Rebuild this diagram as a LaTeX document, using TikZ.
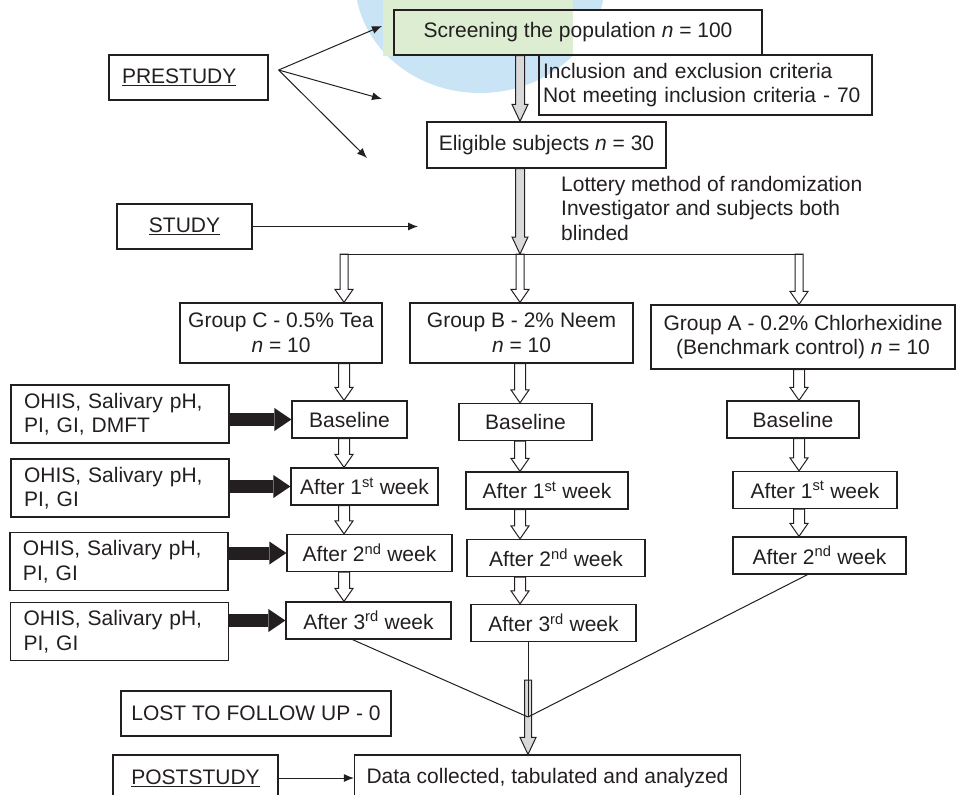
\documentclass[tikz,border=0pt]{standalone}
\usepackage{fontspec}
\setmainfont{Liberation Sans}
\usetikzlibrary{arrows.meta, calc}
\definecolor{ink}{HTML}{231F20}
\definecolor{shade}{HTML}{D9D9D9}
\definecolor{wmblue}{HTML}{C9E4F4}
\definecolor{wmgreen}{HTML}{DDEDD2}
\tikzset{every node/.style={font=\fontsize{21}{24.5}\selectfont,text=ink},
box/.style={rectangle,draw=ink,line width=1.2pt,align=center,inner sep=0pt},
ohis/.style={box,align=left,text width=192pt,inner xsep=13pt,minimum height=58pt},
wk/.style={box,minimum height=37pt},
line/.style={draw=ink,line width=1pt,-{Latex[length=10pt,width=8pt]}},
link/.style={draw=ink,line width=1pt},
heavy/.style={draw=ink,line width=13pt,-{Triangle[length=17pt,width=23pt,line width=0pt]}},
fatarrow/.style args={#1/#2/#3}{to path={let \p1=(\tikztostart),\p2=(\tikztotarget) in
 ({\x1-#1},\y1) -- ({\x1-#1},{\y2+#3}) -- ({\x1-#2},{\y2+#3}) -- (\x1,\y2) -- ({\x1+#2},{\y2+#3}) -- ({\x1+#1},{\y2+#3}) -- ({\x1+#1},\y1) -- cycle}},
hollow/.style={draw=ink,fill=white,line width=1pt,fatarrow={#1/9pt/13pt}},hollow/.default=5.5pt,
shaft/.style={draw=ink,fill=shade,line width=1pt,fatarrow={#1/8pt/17pt}},shaft/.default=4.5pt}

\begin{document}
\begin{tikzpicture}[x=1pt,y=-1pt]
\useasboundingbox (0,0) rectangle (956,795);
\fill[wmblue] (480,-20) ellipse [x radius=125pt, y radius=113pt];
\fill[white] (394,10) rectangle (762,55);
\fill[wmgreen] (383,0) rectangle (573,56);
\node[box,align=left,text width=133pt,inner xsep=13pt,minimum height=45pt] (pre) at (188.5,77.5) {\underline{PRESTUDY}};
\node[box,minimum width=368pt,minimum height=45pt] (scr) at (578,32.5) {Screening the population \textit{n} = 100};
\node[box,align=left,text width=325pt,inner xsep=4pt,minimum height=60pt] (inc) at (705.5,85) {Inclusion and exclusion criteria\\Not meeting inclusion criteria - 70};
\node[box,minimum width=239pt,minimum height=46pt] (eli) at (546.5,145) {Eligible subjects \textit{n} = 30};
\node[anchor=west,align=left,inner sep=0pt] (lot) at (561,208) {Lottery method of randomization\\Investigator and subjects both\\blinded};
\node[box,minimum width=135pt,minimum height=45pt] (stu) at (184.5,226.5) {\underline{STUDY}};
\node[box,minimum width=202pt,minimum height=60pt] (gc) at (281,333) {Group C - 0.5\% Tea\\\textit{n} = 10};
\node[box,minimum width=223pt,minimum height=60pt] (gb) at (521.5,333) {Group B - 2\% Neem\\\textit{n} = 10};
\node[box,minimum width=304pt,minimum height=64pt] (ga) at (803,337) {Group A - 0.2\% Chlorhexidine\\(Benchmark control) \textit{n} = 10};
\node[ohis] (oh1) at (120,414) {OHIS, Salivary pH,\\PI, GI, DMFT};
\node[ohis] (oh2) at (120,488) {OHIS, Salivary pH,\\PI, GI};
\node[ohis] (oh3) at (119,561.5) {OHIS, Salivary pH,\\PI, GI};
\node[ohis] (oh4) at (119.5,631.5) {OHIS, Salivary pH,\\PI, GI};
\node[wk,minimum width=115pt] (baseC) at (349.5,419.5) {Baseline};
\node[wk,minimum width=147pt] (w1C) at (364.5,486.5) {After 1\textsuperscript{st} week};
\node[wk,minimum width=165pt] (w2C) at (369.5,553) {After 2\textsuperscript{nd} week};
\node[wk,minimum width=165pt] (w3C) at (368.5,620.5) {After 3\textsuperscript{rd} week};
\node[wk,minimum width=133pt] (baseB) at (525.5,422) {Baseline};
\node[wk,minimum width=162pt] (w1B) at (547,490.5) {After 1\textsuperscript{st} week};
\node[wk,minimum width=178pt] (w2B) at (556,558) {After 2\textsuperscript{nd} week};
\node[wk,minimum width=165pt] (w3B) at (553.5,623) {After 3\textsuperscript{rd} week};
\node[wk,minimum width=132pt] (baseA) at (793,419.5) {Baseline};
\node[wk,minimum width=164pt] (w1A) at (815,490) {After 1\textsuperscript{st} week};
\node[wk,minimum width=173pt] (w2A) at (819.5,555.5) {After 2\textsuperscript{nd} week};
\node[box,minimum width=270pt,minimum height=45pt] (lost) at (256,713.5) {LOST TO FOLLOW UP - 0};
\node[box,minimum width=165pt,minimum height=46pt] (post) at (195.5,778) {\underline{POSTSTUDY}};
\node[box,minimum width=386pt,minimum height=46pt] (data) at (547.5,778) {Data collected, tabulated and analyzed};
\coordinate (fan) at ($(pre.east)+(10,-7.5)$);
\coordinate (p1) at (382,26);
\coordinate (p2) at (382,99);
\coordinate (p3) at (367,158);
\coordinate (sarr) at (418,226.5);
\coordinate (cC) at (344,254);
\coordinate (cB) at (520,254);
\coordinate (cA) at (799,254);
\coordinate (gt) at (528,680);
\coordinate (mg) at (528,717);
\foreach \t in {p1,p2,p3} \draw[line] (fan) -- (\t);
\draw[line] (stu.east) -- (sarr);
\draw[shaft] (scr.south -| cB) to (eli.north -| cB);
\draw[shaft] (eli.south -| cB) to (cB);
\draw[hollow=4pt] (cC) to (gc.north -| cC);
\draw[hollow=4pt] (cB) to (gb.north -| cB);
\draw[hollow=4pt] (cA) to (ga.north -| cA);
\draw[link] ($(cC)+(-4,0)$) -- ($(cA)+(4,0)$);
\foreach \a/\b in {gc/baseC,baseC/w1C,w1C/w2C,w2C/w3C} \draw[hollow] (\a.south -| cC) to (\b.north -| cC);
\foreach \a/\b in {gb/baseB,baseB/w1B,w1B/w2B,w2B/w3B} \draw[hollow] (\a.south -| cB) to (\b.north -| cB);
\foreach \a/\b in {ga/baseA,baseA/w1A,w1A/w2A} \draw[hollow] (\a.south -| cA) to (\b.north -| cA);
\foreach \a/\b in {oh1/baseC,oh2/w1C,oh3/w2C,oh4/w3C} \draw[heavy] (\a.east |- \b.west) -- (\b.west);
\draw[shaft=3.5pt] (gt) to (data.north -| gt);
\draw[link] (w3C.230) -- (mg);
\draw[link] (w3B.south -| mg) -- (mg);
\draw[link] (w2A.238) -- (mg);
\draw[line] (post.east) -- (data.west);
\end{tikzpicture}
\end{document}
